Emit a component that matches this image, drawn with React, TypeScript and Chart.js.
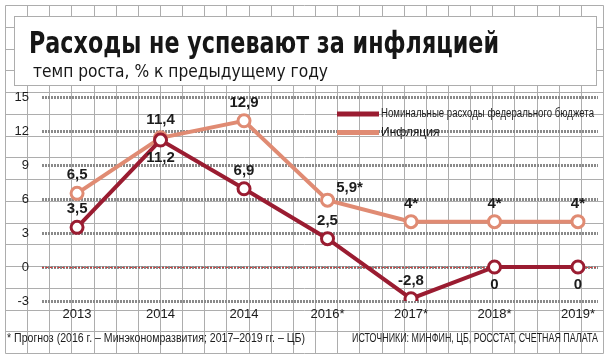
import React, { useEffect, useRef } from "react";
import { Chart, registerables } from "chart.js";

Chart.register(...registerables);

const categories = ["2013", "2014", "2014", "2016*", "2017*", "2018*", "2019*"];
const spending = [3.5, 11.2, 6.9, 2.5, -2.8, 0, 0];
const inflation = [6.5, 11.4, 12.9, 5.9, 4, 4, 4];
const spendingLabels = ["3,5", "11,2", "6,9", "2,5", "-2,8", "0", "0"];
const inflationLabels = ["6,5", "11,4", "12,9", "5,9*", "4*", "4*", "4*"];
const spendingLabelSide = ["above", "below", "above", "above", "above", "below", "below"];
const inflationLabelSide = ["above", "above", "above", "aboveRight", "above", "above", "above"];
const yTicks = [-3, 0, 3, 6, 9, 12, 15];

const TITLE = "Расходы не успевают за инфляцией";
const SUBTITLE = "темп роста, % к предыдущему году";
const FOOT_LEFT = "* Прогноз (2016 г. – Минэкономразвития; 2017–2019 гг. – ЦБ)";
const FOOT_RIGHT = "ИСТОЧНИКИ: МИНФИН, ЦБ, РОССТАТ, СЧЕТНАЯ ПАЛАТА";
const SERIES_NAMES = ["Номинальные расходы федерального бюджета", "Инфляция"];

const RED = "#9a1c31";
const SALMON = "#e08b73";
const TEXT = "#1c1c1c";
const PAPER = "#adadad";
const NARROW = '"Liberation Sans Narrow", "Liberation Sans", sans-serif';

const W = 610;
const H = 362;

const backgroundPlugin = {
  id: "paper",
  beforeDraw(chart: any) {
    const ctx = chart.ctx;
    ctx.save();
    ctx.fillStyle = "#fff";
    ctx.fillRect(0, 0, W, H);
    // graph paper
    ctx.strokeStyle = PAPER;
    ctx.lineWidth = 1;
    const x0 = 5, x1 = 603, y0 = 5, y1 = 353;
    const cols = 27, rows = 16;
    ctx.beginPath();
    for (let i = 0; i <= cols; i++) {
      const x = Math.round(x0 + ((x1 - x0) * i) / cols) + 0.5;
      ctx.moveTo(x, y0 + 0.5);
      ctx.lineTo(x, y1 + 0.5);
    }
    for (let j = 0; j <= rows; j++) {
      const y = Math.round(y0 + ((y1 - y0) * j) / rows) + 0.5;
      ctx.moveTo(x0 + 0.5, y);
      ctx.lineTo(x1 + 0.5, y);
    }
    ctx.stroke();
    // title box
    ctx.fillStyle = "#fff";
    ctx.fillRect(14, 16, 582, 69);
    ctx.strokeRect(14.5, 16.5, 582, 69);
    ctx.fillStyle = "#161616";
    ctx.textBaseline = "alphabetic";
    ctx.textAlign = "left";
    ctx.font = 'bold 31px "DejaVu Sans Condensed", "DejaVu Sans", sans-serif';
    ctx.fillText(TITLE, 29, 53, 470);
    ctx.font = '18px "DejaVu Sans Condensed", "DejaVu Sans", sans-serif';
    ctx.fillText(SUBTITLE, 33, 77, 295);
    // footer
    ctx.fillStyle = TEXT;
    ctx.font = "12.5px " + NARROW;
    ctx.textBaseline = "middle";
    ctx.fillText(FOOT_LEFT, 7, 339, 298);
    ctx.textAlign = "right";
    ctx.fillText(FOOT_RIGHT, 598, 339, 246);
    ctx.restore();
  },
};

const overlayPlugin = {
  id: "overlay",
  beforeDatasetsDraw(chart: any) {
    const ctx = chart.ctx;
    const y = chart.scales.y.getPixelForValue(0);
    const { left, right } = chart.chartArea;
    ctx.save();
    ctx.strokeStyle = "#d23a3a";
    ctx.lineWidth = 1;
    ctx.setLineDash([2, 2]);
    ctx.beginPath();
    ctx.moveTo(left, Math.round(y) + 0.5);
    ctx.lineTo(right, Math.round(y) + 0.5);
    ctx.stroke();
    ctx.restore();
  },
  afterDraw(chart: any) {
    const ctx = chart.ctx;
    ctx.save();
    // legend
    chart.data.datasets.forEach((ds: any, i: number) => {
      const ly = 114 + i * 18.5;
      ctx.strokeStyle = ds.borderColor;
      ctx.lineWidth = 5;
      ctx.setLineDash([]);
      ctx.beginPath();
      ctx.moveTo(337, ly);
      ctx.lineTo(379, ly);
      ctx.stroke();
      ctx.fillStyle = TEXT;
      ctx.font = "12px " + NARROW;
      ctx.textAlign = "left";
      ctx.textBaseline = "middle";
      ctx.fillText(ds.label, 381, ly, 213);
    });
    // data labels
    const sets = [
      { labels: spendingLabels, sides: spendingLabelSide },
      { labels: inflationLabels, sides: inflationLabelSide },
    ];
    ctx.font = 'bold 15px "Liberation Sans", sans-serif';
    ctx.fillStyle = TEXT;
    ctx.textAlign = "center";
    ctx.textBaseline = "middle";
    sets.forEach((s, di) => {
      const meta = chart.getDatasetMeta(di);
      meta.data.forEach((pt: any, i: number) => {
        const side = s.sides[i];
        let dx = 0, dy = -18;
        if (side === "below") dy = 18;
        if (side === "aboveRight") { dx = 22; dy = -12; }
        ctx.fillText(s.labels[i], pt.x + dx, pt.y + dy);
      });
    });
    ctx.restore();
  },
};

export default function App() {
  const ref = useRef<HTMLCanvasElement | null>(null);
  useEffect(() => {
    document.body.style.margin = "0";
    const canvas = ref.current!;
    const mk = (vals: number[]) => vals.map((v, i) => ({ x: i, y: v }));
    const chart = new Chart(canvas, {
      type: "line",
      data: {
        datasets: [
          {
            label: SERIES_NAMES[0],
            data: mk(spending),
            borderColor: RED,
            backgroundColor: RED,
            borderWidth: 4,
            pointRadius: 6,
            pointBorderWidth: 3,
            pointBackgroundColor: "#fff",
            pointBorderColor: RED,
            tension: 0,
          },
          {
            label: SERIES_NAMES[1],
            data: mk(inflation),
            borderColor: SALMON,
            backgroundColor: SALMON,
            borderWidth: 4,
            pointRadius: 6,
            pointBorderWidth: 3,
            pointBackgroundColor: "#fff",
            pointBorderColor: SALMON,
            tension: 0,
          },
        ],
      },
      options: {
        animation: false,
        responsive: false,
        devicePixelRatio: 1,
        layout: { padding: { top: 97, right: 12, left: 0, bottom: 0 } },
        scales: {
          x: {
            type: "linear",
            min: -0.42,
            max: 6.24,
            afterBuildTicks: (s: any) => {
              s.ticks = categories.map((_, i) => ({ value: i }));
            },
            afterFit: (s: any) => {
              s.height = 61;
            },
            ticks: {
              callback: (v: any) => categories[v as number],
              font: { family: NARROW, size: 13 },
              color: TEXT,
              padding: 6,
              maxRotation: 0,
              autoSkip: false,
            },
            grid: { display: false, drawTicks: false },
            border: { display: false },
          },
          y: {
            min: -3,
            max: 15,
            afterBuildTicks: (s: any) => {
              s.ticks = yTicks.map((v) => ({ value: v }));
            },
            afterFit: (s: any) => {
              s.width = 42;
            },
            ticks: {
              font: { family: NARROW, size: 13 },
              color: TEXT,
              padding: 13,
            },
            grid: { color: "#8a8a8a", lineWidth: 3, drawTicks: false },
            border: { display: false, dash: [2, 1] },
          },
        },
        plugins: {
          legend: { display: false },
          tooltip: { enabled: false },
        },
      },
      plugins: [backgroundPlugin, overlayPlugin],
    } as any);
    return () => chart.destroy();
  }, []);
  return <canvas ref={ref} width={W} height={H} style={{ display: "block" }} />;
}
